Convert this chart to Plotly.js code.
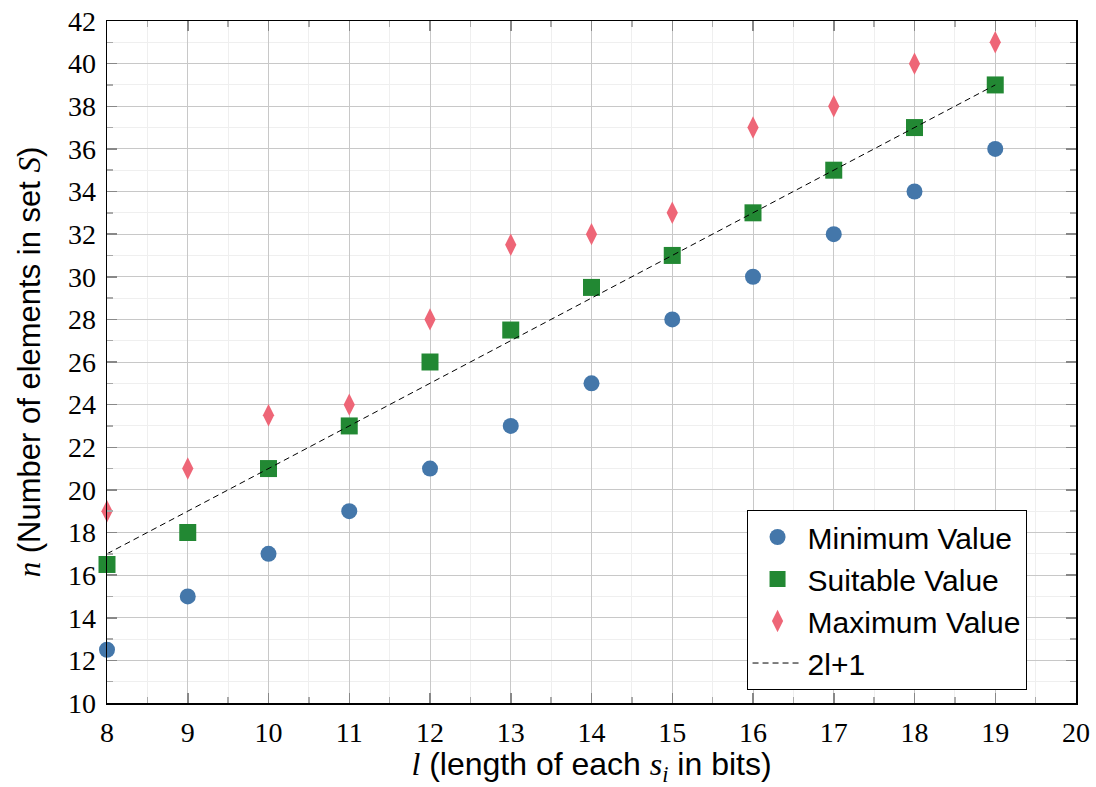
<!DOCTYPE html>
<html><head><meta charset="utf-8">
<script src="https://cdn.plot.ly/plotly-3.0.1.min.js"></script>
<style>body{margin:0;background:#fff}#c{width:1096px;height:787px}</style>
</head><body><div id="c"></div>
<script>
const lengths = [8, 9, 10, 11, 12, 13, 14, 15, 16, 17, 18, 19];
const minValues = [12.5, 15, 17, 19, 21, 23, 25, 28, 30, 32, 34, 36];
const suitableValues = [16.5, 18, 21, 23, 26, 27.5, 29.5, 31, 33, 35, 37, 39];
const maxValues = [19, 21, 23.5, 24, 28, 31.5, 32, 33, 37, 38, 40, 41];
const lineX = [8, 19];
const lineY = lineX.map(l => 2 * l + 1);

const serif = '"Liberation Serif", "DejaVu Serif", serif';
const sans = '"Liberation Sans", Arial, sans-serif';
const mi = t => '<span style="font-family:' + "'Liberation Serif'" + '"><i>' + t + '</i></span>';

const traces = [
  {x: lengths, y: minValues, mode: 'markers', type: 'scatter', name: 'Minimum Value', cliponaxis: false,
   marker: {symbol: 'circle', size: 16, color: '#4477AA'}},
  {x: lengths, y: suitableValues, mode: 'markers', type: 'scatter', name: 'Suitable Value', cliponaxis: false,
   marker: {symbol: 'square', size: 17, color: '#228833'}},
  {x: lengths, y: maxValues, mode: 'markers', type: 'scatter', name: 'Maximum Value', cliponaxis: false,
   marker: {symbol: 'diamond-tall', size: 16, color: '#EE6677'}},
  {x: lineX, y: lineY, mode: 'lines', type: 'scatter', name: '2l+1',
   line: {color: '#000', width: 1, dash: '6px,4px'}}
];

const axisCommon = {
  showline: true, linecolor: '#000', linewidth: 1.5, mirror: 'ticks',
  ticks: 'inside', ticklen: 10, tickcolor: '#888', tickwidth: 1.5,
  showgrid: true, gridcolor: '#c8c8c8', gridwidth: 1,
  zeroline: false, tickfont: {family: serif, size: 28, color: '#000'}
};

const layout = {
  width: 1096, height: 787,
  margin: {l: 107, r: 20, t: 21, b: 84},
  paper_bgcolor: '#fff', plot_bgcolor: '#fff',
  font: {family: sans, color: '#000'},
  xaxis: Object.assign({}, axisCommon, {
    range: [8, 20], dtick: 1, tick0: 8, ticklabelstandoff: 4,
    minor: {dtick: 0.5, showgrid: true, gridcolor: '#efefef', ticks: 'inside', ticklen: 6, tickcolor: '#aaa'},
    title: {text: mi('l') + ' (length of each ' + mi('s<sub>i</sub>') + ' in bits)', font: {family: sans, size: 32}, standoff: 9}
  }),
  yaxis: Object.assign({}, axisCommon, {
    range: [10, 42], dtick: 2, tick0: 10, ticklabelstandoff: 4,
    minor: {dtick: 1, showgrid: true, gridcolor: '#efefef', ticks: 'inside', ticklen: 6, tickcolor: '#aaa'},
    title: {text: mi('n') + ' (Number of elements in set ' + mi('S') + ')', font: {family: sans, size: 31}, standoff: 18}
  }),
  legend: {
    x: 0.66, y: 0.151, xanchor: 'left', yanchor: 'middle',
    bgcolor: '#fff', bordercolor: '#000', borderwidth: 1, itemwidth: 50, entrywidth: 250,
    font: {family: sans, size: 30, color: '#000'}
  },
  showlegend: true
};

Plotly.newPlot('c', traces, layout, {displayModeBar: false, staticPlot: true});
</script></body></html>
